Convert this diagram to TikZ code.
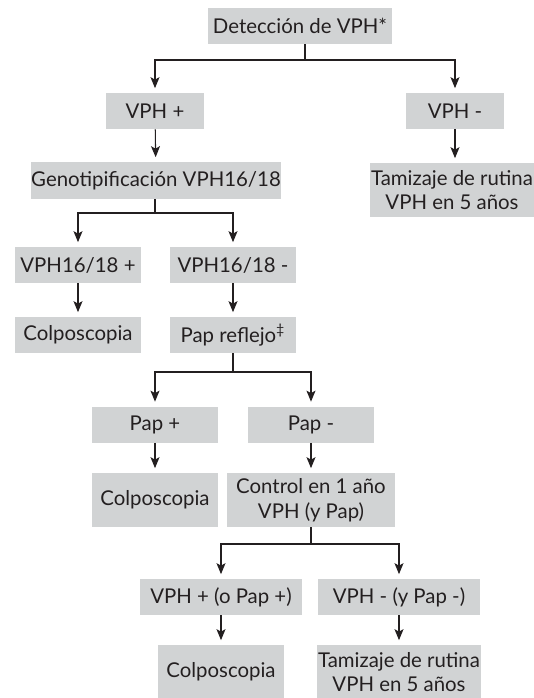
\documentclass[tikz,border=0pt]{standalone}
\usepackage{fontspec}
\setmainfont{Lato}
\usetikzlibrary{arrows.meta}
\definecolor{boxgray}{HTML}{D1D3D4}
\definecolor{ink}{HTML}{231F20}

\begin{document}
\begin{tikzpicture}[x=0.02cm, y=-0.02cm,
    box/.style={fill=boxgray, text=ink, font=\fontsize{11.6}{14}\selectfont,
        align=center, inner sep=0pt, minimum height=0.72cm},
    tall/.style={minimum height=1.08cm},
    link/.style={draw=ink, line width=0.6pt},
    arr/.style={link, -{Stealth[length=2.2mm, width=1.8mm, inset=0.5mm]}, shorten >=0.09cm}]
    \useasboundingbox (0,0) rectangle (534,698);

    % First test
    \node[box, minimum width=3.68cm] (det) at (300,26) {Detección de VPH*};
    \node[box, minimum width=1.96cm] (vphpos) at (155,111) {VPH +};
    \node[box, minimum width=1.96cm] (vphneg) at (455,111) {VPH -};

    % Right branch
    \node[box, tall, minimum width=3.28cm] (tamiz) at (452,190) {Tamizaje de rutina\\VPH en 5 años};

    % Genotyping
    \node[box, minimum width=5cm, minimum height=0.74cm] (geno) at (156,180.5) {Genotipificación VPH16/18};
    \node[box, minimum width=2.52cm] (genopos) at (78,265) {VPH16/18 +};
    \node[box, minimum width=2.52cm] (genoneg) at (233,265) {VPH16/18 -};
    \node[box, minimum width=2.52cm] (colpoA) at (78,335) {Colposcopia};
    \node[box, minimum width=2.52cm] (papref) at (233,335) {Pap reflejo\textsuperscript{‡}};

    % Reflex cytology
    \node[box, minimum width=2.52cm] (pappos) at (155,424.5) {Pap +};
    \node[box, minimum width=2.52cm] (papneg) at (311,424.5) {Pap -};
    \node[box, tall, minimum width=2.52cm] (colpoB) at (155,500) {Colposcopia};
    \node[box, tall, minimum width=3.38cm] (control) at (311,500) {Control en 1 año\\VPH (y Pap)};

    % One year control
    \node[box, minimum width=3.24cm] (ctrlpos) at (221,597) {VPH + (o Pap +)};
    \node[box, minimum width=3.24cm] (ctrlneg) at (399,597) {VPH - (y Pap -)};
    \node[box, tall, minimum width=2.52cm] (colpoC) at (221,672) {Colposcopia};
    \node[box, tall, minimum width=3.28cm] (tamizB) at (399,672) {Tamizaje de rutina\\VPH en 5 años};

    % Branch points
    \coordinate (brA) at (305,60);
    \coordinate (brB) at (155,213);
    \coordinate (brC) at (233,372);
    \coordinate (brD) at (311,544);

    % Connectors
    \draw[link] (det.south -| brA) -- (brA);
    \draw[arr] (brA) -| (vphpos.north);
    \draw[arr] (brA) -| (vphneg.north);
    \draw[arr] (vphpos) -- (geno);
    \draw[arr] (vphneg.south) -- (vphneg.south |- tamiz.north);

    \draw[link] (geno.south -| brB) -- (brB);
    \draw[arr] (brB) -| (genopos.north);
    \draw[arr] (brB) -| (genoneg.north);
    \draw[arr] (genopos) -- (colpoA);
    \draw[arr] (genoneg) -- (papref);

    \draw[link] (papref.south) -- (brC);
    \draw[arr] (brC) -| (pappos.north);
    \draw[arr] (brC) -| (papneg.north);
    \draw[arr] (pappos) -- (colpoB);
    \draw[arr] (papneg) -- (control);

    \draw[link] (control.south) -- (brD);
    \draw[arr] (brD) -| (ctrlpos.north);
    \draw[arr] (brD) -| (ctrlneg.north);
    \draw[arr] (ctrlpos) -- (colpoC);
    \draw[arr] (ctrlneg) -- (tamizB);
\end{tikzpicture}
\end{document}
